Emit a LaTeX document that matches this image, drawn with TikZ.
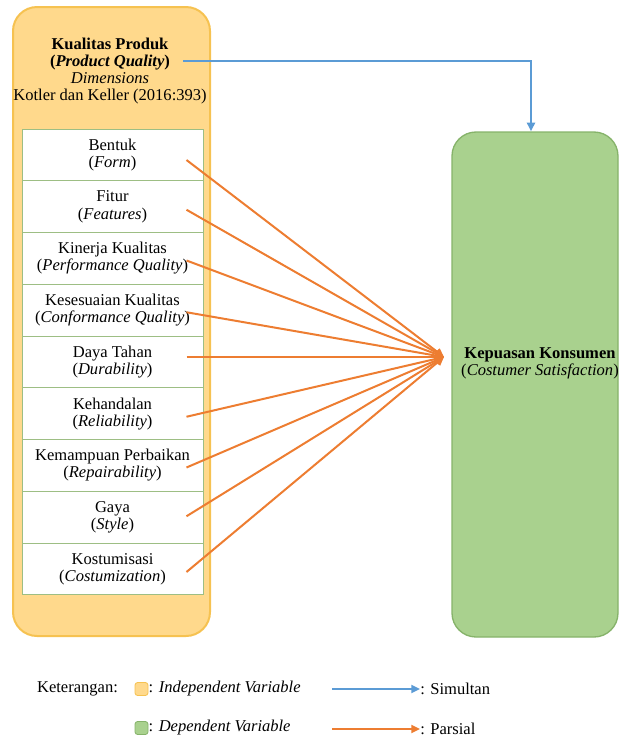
\documentclass[tikz,border=0pt]{standalone}
\usepackage{fontspec}
\setmainfont{LiberationSerif}[Extension=.ttf, UprightFont=*-Regular, BoldFont=*-Bold,
  ItalicFont=*-Italic, BoldItalicFont=*-BoldItalic]
\usepackage{tikz}
\usetikzlibrary{arrows, arrows.meta, calc}
\definecolor{ivfill}{HTML}{FFD98C}
\definecolor{ivdraw}{HTML}{F6C251}
\definecolor{dvfill}{HTML}{A9D18E}
\definecolor{dvdraw}{HTML}{86B36A}
\definecolor{boxdraw}{HTML}{9DBE84}
\definecolor{simblue}{HTML}{5B9BD5}
\definecolor{parorange}{HTML}{ED7D31}
\newcommand{\EN}[1]{(\textit{#1})}

\begin{document}
\begin{tikzpicture}[x=0.75pt, y=-0.75pt, font=\fontsize{12.4}{12.8}\selectfont,
  dimbox/.style={draw=boxdraw, fill=white, line width=0.6pt, inner sep=0pt,
    minimum width=135.75pt, minimum height=38.8pt, align=center},
  legbox/.style={line width=0.6pt, rounded corners=2pt, inner sep=0pt, minimum size=9.75pt},
  simul/.style={draw=simblue, line width=1.5pt, -{Triangle[length=6.5pt, width=6pt]}},
  parsial/.style={draw=parorange, line width=1.5pt, -{Triangle[length=6.5pt, width=6pt]}}]
\useasboundingbox (0,0) rectangle (619,740);

\node[draw=ivdraw, fill=ivfill, line width=1.5pt, rounded corners=18pt,
  minimum width=147.75pt, minimum height=471.75pt] (iv) at (111.5,321.5) {};
\node[draw=dvdraw, fill=dvfill, line width=1pt, rounded corners=18pt,
  minimum width=124.5pt, minimum height=378.75pt] (dv) at (535,384.5) {};

\node[align=center] (ivtext) at (110,71) {\textbf{Kualitas Produk}\\
  \textbf{(\textit{Product Quality})}\\ \textit{Dimensions}\\ Kotler dan Keller (2016:393)};
\node[align=center] (dvtext) at (540,363) {\textbf{Kepuasan Konsumen}\\
  \EN{Costumer Satisfaction}};

% dimensions
\foreach \i/\nm/\en/\dy in {1/Bentuk/Form/5, 2/Fitur/Features/3,
    3/Kinerja Kualitas/Performance Quality/2, 4/Kesesuaian Kualitas/Conformance Quality/2,
    5/Daya Tahan/Durability/-5, 6/Kehandalan/Reliability/3,
    7/Kemampuan Perbaikan/Repairability/2, 8/Gaya/Style/-1, 9/Kostumisasi/Costumization/3}
{
  \node[dimbox] (b\i) at (112.5,{103.25+51.75*\i}) {\nm\\ \EN{\en}};
  \coordinate (s\i) at ($(b\i.center)+(74,\dy)$);
}

\coordinate (hub) at (444,357);
\foreach \i in {1,...,9}
  \draw[parsial] (s\i) -- (hub);

\coordinate (bs) at (183,61);
\draw[simul] (bs) -| ([xshift=-3pt]dv.north);

% legend
\node (ket) at (77.5,689) {Keterangan:};
\node[legbox, draw=ivdraw, fill=ivfill] (lgiv) at (141.5,689) {};
\node[anchor=west, inner sep=0pt] (lgivtext) at (lgiv.east) {: \textit{Independent Variable}};
\node[legbox, draw=dvdraw, fill=dvfill] (lgdv) at (141.5,728) {};
\node[anchor=west, inner sep=0pt] (lgdvtext) at (lgdv.east) {: \textit{Dependent Variable}};
\node[anchor=west, inner sep=0pt] (simtext) at (420,689) {: Simultan};
\node[anchor=west, inner sep=0pt] (partext) at (420,729) {: Parsial};
\coordinate (lgs) at (332,689);
\coordinate (lgp) at (332,729);
\draw[simul] (lgs) -- (simtext.west);
\draw[parsial] (lgp) -- (partext.west);
\end{tikzpicture}
\end{document}
